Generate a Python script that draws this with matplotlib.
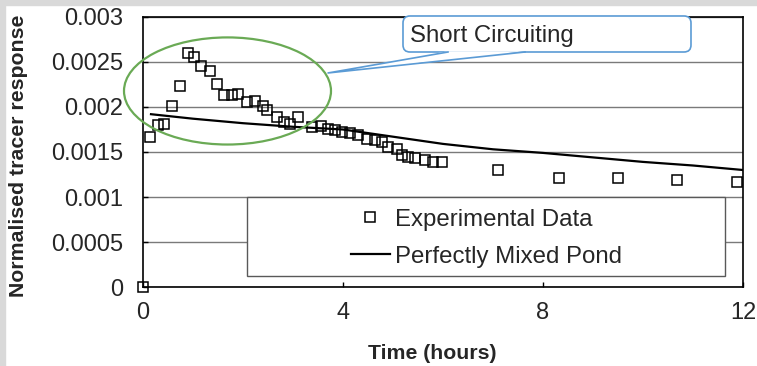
import matplotlib.pyplot as plt
from matplotlib.patches import Ellipse, FancyBboxPatch, Polygon, Rectangle
from matplotlib.ticker import FixedLocator, FuncFormatter

plt.rcParams['font.family'] = ['Liberation Sans', 'DejaVu Sans']

# measured tracer concentration (normalised) against time in hours
exp_time = [0.0, 0.14, 0.30, 0.42, 0.58, 0.74, 0.90, 1.02, 1.16, 1.34,
            1.48, 1.62, 1.78, 1.90, 2.08, 2.24, 2.40, 2.48, 2.68, 2.82,
            2.94, 3.10, 3.38, 3.56, 3.70, 3.84, 3.98, 4.14, 4.30, 4.48,
            4.64, 4.78, 4.90, 5.08, 5.18, 5.30, 5.44, 5.64, 5.80, 5.98,
            7.10, 8.32, 9.50, 10.68, 11.88]
exp_resp = [0.0, 0.00167, 0.00180, 0.00181, 0.00201, 0.00223, 0.00260, 0.00256, 0.00246, 0.00240,
            0.00226, 0.00213, 0.00213, 0.00214, 0.00206, 0.00207, 0.00201, 0.00197, 0.00189, 0.00183,
            0.00181, 0.00189, 0.00178, 0.00179, 0.00176, 0.00174, 0.00172, 0.00171, 0.00169, 0.00164,
            0.00163, 0.00161, 0.00156, 0.00153, 0.00147, 0.00144, 0.00143, 0.00141, 0.00139, 0.00139,
            0.00130, 0.00121, 0.00121, 0.00119, 0.00117]

# ideal CSTR response
pmp_time = [0.16, 1.0, 2.0, 3.0, 4.0, 5.0, 6.0, 7.0, 8.0, 9.0, 10.0, 11.0, 12.0]
pmp_resp = [0.00192, 0.00187, 0.00182, 0.00178, 0.00175, 0.00167, 0.00159, 0.00153,
            0.00149, 0.00144, 0.00139, 0.00135, 0.00130]

y_ticks = [0, 0.0005, 0.001, 0.0015, 0.002, 0.0025, 0.003]
x_ticks = [0, 4, 8, 12]

fig = plt.figure(figsize=(7.57, 3.66), dpi=100)
fig.patch.set_facecolor('white')
# grey frame strips along top and left
fig.patches.append(Rectangle((0, 1 - 5 / 366), 1, 5 / 366, transform=fig.transFigure,
                             color='#d9d9d9', zorder=0))
fig.patches.append(Rectangle((0, 0), 5 / 757, 1, transform=fig.transFigure,
                             color='#d9d9d9', zorder=0))

ax = fig.add_axes([0.1889, 0.2158, 0.7926, 0.7378])
ax.set_xlim(0, 12)
ax.set_ylim(0, 0.003)

ax.yaxis.set_major_locator(FixedLocator(y_ticks))
ax.yaxis.set_major_formatter(FuncFormatter(lambda v, p: f'{v:g}'))
ax.xaxis.set_major_locator(FixedLocator(x_ticks))
ax.yaxis.grid(True, color='#7a7a7a', lw=1.0, zorder=0)
ax.set_axisbelow(True)

for s in ax.spines.values():
    s.set_color('black')
    s.set_linewidth(1.2)
ax.tick_params(direction='in', length=3.6, width=1.0, labelsize=17, labelcolor='#262626')
ax.tick_params(axis='y', pad=14)
ax.tick_params(axis='x', pad=11)

ax.plot(exp_time, exp_resp, ls='none', marker='s', ms=7.2, mfc='none', mec='black',
        mew=1.1, clip_on=False, zorder=3, label='Experimental Data')
ax.plot(pmp_time, pmp_resp, color='black', lw=1.6, zorder=4, label='Perfectly Mixed Pond')

# highlight around the early peak
ax.add_patch(Ellipse((1.69, 0.002178), 4.14, 0.00119, fill=False, ec='#6aaa55',
                     lw=1.6, zorder=5, clip_on=False))

# callout box
ax.add_patch(FancyBboxPatch((5.2, 0.002611), 5.76, 0.0004,
                            boxstyle='round,pad=0,rounding_size=0.14',
                            mutation_aspect=50 / 90000, fc='white', ec='#5b9bd5',
                            lw=1.2, zorder=6, clip_on=False))
ax.add_patch(Polygon([(6.1, 0.00262), (3.7, 0.002378), (7.64, 0.00262)], closed=True,
                     fc='white', ec='none', zorder=6.5, clip_on=False))
ax.plot([6.1, 3.7, 7.64], [0.002611, 0.002378, 0.002611], color='#5b9bd5', lw=1.2,
        zorder=7, clip_on=False)
ax.text(5.34, 0.002785, 'Short Circuiting', fontsize=17.3, color='#262626',
        ha='left', va='center', zorder=8)

# legend frame and entries
ax.add_patch(Rectangle((0.1733, 0.0407), 0.7967, 0.2926, transform=ax.transAxes,
                       fc='white', ec='#595959', lw=1.0, zorder=8))
leg = ax.legend(loc='upper left', bbox_to_anchor=(0.346, 0.29), frameon=False,
                fontsize=17.3, numpoints=1, handlelength=1.65, handletextpad=0.2,
                labelspacing=0.62, borderpad=0, borderaxespad=0)
leg.set_zorder(9)
for t in leg.get_texts():
    t.set_color('#262626')

fig.text(0.5707, 0.0355, 'Time (hours)', fontsize=15.3, fontweight='bold',
         ha='center', va='center', color='#262626')
fig.text(0.0238, 0.5738, 'Normalised tracer response', fontsize=15.3, fontweight='bold',
         rotation=90, ha='center', va='center', color='#262626')

fig.savefig('out.png', dpi=100)
